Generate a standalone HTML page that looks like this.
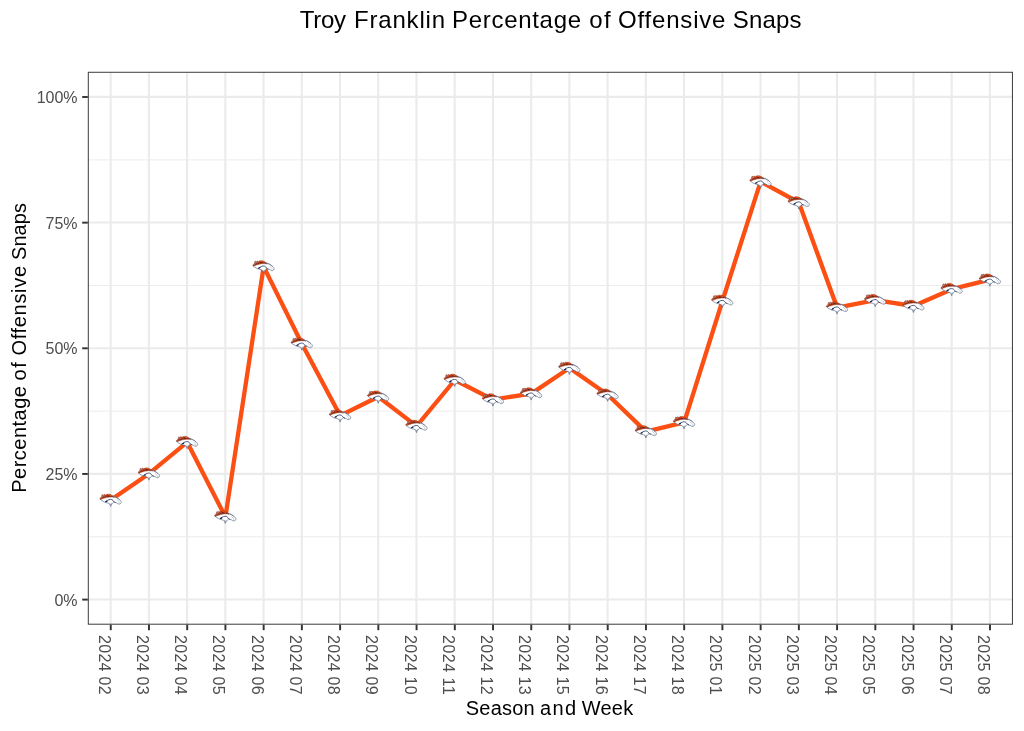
<!DOCTYPE html>
<html><head><meta charset="utf-8"><title>Troy Franklin Percentage of Offensive Snaps</title>
<style>html,body{margin:0;padding:0;background:#fff;}body{width:1024px;height:731px;overflow:hidden;}svg{display:block;will-change:transform;}text{font-family:"Liberation Sans",sans-serif;}</style>
</head><body>
<svg width="1024" height="731" viewBox="0 0 1024 731">
<rect x="0" y="0" width="1024" height="731" fill="#ffffff"/>
<line x1="87.80" x2="1012.94" y1="536.77" y2="536.77" stroke="#ebebeb" stroke-width="0.97"/>
<line x1="87.80" x2="1012.94" y1="411.12" y2="411.12" stroke="#ebebeb" stroke-width="0.97"/>
<line x1="87.80" x2="1012.94" y1="285.48" y2="285.48" stroke="#ebebeb" stroke-width="0.97"/>
<line x1="87.80" x2="1012.94" y1="159.83" y2="159.83" stroke="#ebebeb" stroke-width="0.97"/>
<line x1="87.80" x2="1012.94" y1="599.50" y2="599.50" stroke="#ebebeb" stroke-width="2.1"/>
<line x1="87.80" x2="1012.94" y1="473.85" y2="473.85" stroke="#ebebeb" stroke-width="2.1"/>
<line x1="87.80" x2="1012.94" y1="348.20" y2="348.20" stroke="#ebebeb" stroke-width="2.1"/>
<line x1="87.80" x2="1012.94" y1="222.55" y2="222.55" stroke="#ebebeb" stroke-width="2.1"/>
<line x1="87.80" x2="1012.94" y1="96.90" y2="96.90" stroke="#ebebeb" stroke-width="2.1"/>
<line x1="110.64" x2="110.64" y1="71.90" y2="624.70" stroke="#ebebeb" stroke-width="2.1"/>
<line x1="148.87" x2="148.87" y1="71.90" y2="624.70" stroke="#ebebeb" stroke-width="2.1"/>
<line x1="187.10" x2="187.10" y1="71.90" y2="624.70" stroke="#ebebeb" stroke-width="2.1"/>
<line x1="225.32" x2="225.32" y1="71.90" y2="624.70" stroke="#ebebeb" stroke-width="2.1"/>
<line x1="263.55" x2="263.55" y1="71.90" y2="624.70" stroke="#ebebeb" stroke-width="2.1"/>
<line x1="301.78" x2="301.78" y1="71.90" y2="624.70" stroke="#ebebeb" stroke-width="2.1"/>
<line x1="340.01" x2="340.01" y1="71.90" y2="624.70" stroke="#ebebeb" stroke-width="2.1"/>
<line x1="378.24" x2="378.24" y1="71.90" y2="624.70" stroke="#ebebeb" stroke-width="2.1"/>
<line x1="416.47" x2="416.47" y1="71.90" y2="624.70" stroke="#ebebeb" stroke-width="2.1"/>
<line x1="454.70" x2="454.70" y1="71.90" y2="624.70" stroke="#ebebeb" stroke-width="2.1"/>
<line x1="492.93" x2="492.93" y1="71.90" y2="624.70" stroke="#ebebeb" stroke-width="2.1"/>
<line x1="531.16" x2="531.16" y1="71.90" y2="624.70" stroke="#ebebeb" stroke-width="2.1"/>
<line x1="569.38" x2="569.38" y1="71.90" y2="624.70" stroke="#ebebeb" stroke-width="2.1"/>
<line x1="607.61" x2="607.61" y1="71.90" y2="624.70" stroke="#ebebeb" stroke-width="2.1"/>
<line x1="645.84" x2="645.84" y1="71.90" y2="624.70" stroke="#ebebeb" stroke-width="2.1"/>
<line x1="684.07" x2="684.07" y1="71.90" y2="624.70" stroke="#ebebeb" stroke-width="2.1"/>
<line x1="722.30" x2="722.30" y1="71.90" y2="624.70" stroke="#ebebeb" stroke-width="2.1"/>
<line x1="760.53" x2="760.53" y1="71.90" y2="624.70" stroke="#ebebeb" stroke-width="2.1"/>
<line x1="798.76" x2="798.76" y1="71.90" y2="624.70" stroke="#ebebeb" stroke-width="2.1"/>
<line x1="836.99" x2="836.99" y1="71.90" y2="624.70" stroke="#ebebeb" stroke-width="2.1"/>
<line x1="875.22" x2="875.22" y1="71.90" y2="624.70" stroke="#ebebeb" stroke-width="2.1"/>
<line x1="913.44" x2="913.44" y1="71.90" y2="624.70" stroke="#ebebeb" stroke-width="2.1"/>
<line x1="951.67" x2="951.67" y1="71.90" y2="624.70" stroke="#ebebeb" stroke-width="2.1"/>
<line x1="989.90" x2="989.90" y1="71.90" y2="624.70" stroke="#ebebeb" stroke-width="2.1"/>
<polyline points="110.74,500.00 148.97,473.70 187.20,442.20 225.42,516.90 263.65,266.60 301.88,343.70 340.11,415.60 378.34,396.70 416.57,426.10 454.80,380.00 493.03,399.60 531.26,393.60 569.48,368.00 607.71,394.80 645.94,431.60 684.17,422.40 722.40,301.00 760.63,181.60 798.86,202.50 837.09,307.60 875.32,300.20 913.54,306.00 951.77,289.20 990.00,279.70" fill="none" stroke="#fb4f14" stroke-width="4.3" stroke-linejoin="round" stroke-linecap="butt"/>
<g transform="translate(110.84,500.30)">
<path d="M-10.9,-1.3 C-8,-3.4 -3,-4.8 1.5,-4.3 C4.4,-3.8 7.2,-2.2 9,-0.4 C10,0.6 10.5,1.4 10.4,2.1 C10.2,3 9.6,3.5 8.6,3.7 C7.8,3.8 7.2,3.7 6.8,3.2 C6.3,2.6 5.6,2.5 4.7,2.3 C4,2.1 3.4,1.9 3,1.6 C2.4,2.2 1.8,2.7 1.5,3.3 L0.35,4.7 L-0.2,6.2 L-0.65,4.7 L-1.2,3.9 C-1.4,3.4 -1.9,3 -2.6,2.8 C-5.4,2.4 -8.6,1 -10.9,-1.3 Z" fill="#ffffff" stroke="#506080" stroke-width="0.62" stroke-linejoin="round"/>
<path d="M-11,-1.5 L-9.9,-3 L-9.4,-2.7 L-9,-5.2 L-8.2,-5.8 L-7.5,-4.7 L-6.7,-6 L-5.5,-5.2 L-4,-6.1 L-1.5,-6.1 L0.2,-5.6 L1.5,-4.7 L2.6,-3.6 L3.6,-2.9 L2,-3.2 C0,-3.5 -2.4,-3.3 -4.6,-2.7 C-6.6,-2.2 -8.6,-1.5 -10,-0.8 Z" fill="#d4410f" stroke="#7a2c1a" stroke-width="0.4" stroke-linejoin="round"/>
<path d="M-3.6,-5.6 L-1.5,-5.7 L0.1,-5.2 L1.3,-4.3 L0,-4.6 L-2,-4.9 Z" fill="#fb5a1a"/>
<path d="M-9.6,-1.6 C-7.6,-3 -5,-3.9 -2.2,-4.3 M-7.8,-3.8 L-7,-2.9 M-6,-4.6 L-5,-3.7 M-3.4,-4.4 C-1.6,-4.5 0.2,-4.2 1.8,-3.6" fill="none" stroke="#2e2030" stroke-width="0.55" opacity="0.75"/>
<path d="M-8.8,-5.3 L-8.2,-3.5 M-7.2,-5.3 L-6.6,-3.9 M-9.8,-2.8 L-9.2,-1.8" fill="none" stroke="#9aa6bd" stroke-width="0.7"/>
<path d="M-3.2,-4.3 L-1.4,-4.0" fill="none" stroke="#1c2444" stroke-width="0.7" opacity="0.8"/>
<path d="M1.8,-3.9 C4.4,-3.4 7,-2 9,-0.3" fill="none" stroke="#3a4a70" stroke-width="0.55" opacity="0.75"/>
<path d="M-5.3,1.4 C-4.3,0.4 -2.6,-0.6 -0.4,-0.95 C1,-1 2,-0.2 2.6,0.9 C2.9,1.5 3.4,1.9 4.4,2.1" fill="none" stroke="#2c3c64" stroke-width="0.85" stroke-linecap="round"/>
<ellipse cx="-4.3" cy="1.05" rx="1.3" ry="0.68" fill="#14244a" transform="rotate(-18 -4.3 1.05)"/>
<path d="M-1.2,2.8 L-0.2,5.2 L0.8,2.8" fill="none" stroke="#6b7893" stroke-width="0.55"/>
<path d="M5.8,-0.7 C7,0 8,0.9 8.4,1.8 C8.6,2.5 8.3,2.9 7.7,3.1" fill="none" stroke="#a0aabd" stroke-width="0.5"/>
</g>
<g transform="translate(149.07,474.00)">
<path d="M-10.9,-1.3 C-8,-3.4 -3,-4.8 1.5,-4.3 C4.4,-3.8 7.2,-2.2 9,-0.4 C10,0.6 10.5,1.4 10.4,2.1 C10.2,3 9.6,3.5 8.6,3.7 C7.8,3.8 7.2,3.7 6.8,3.2 C6.3,2.6 5.6,2.5 4.7,2.3 C4,2.1 3.4,1.9 3,1.6 C2.4,2.2 1.8,2.7 1.5,3.3 L0.35,4.7 L-0.2,6.2 L-0.65,4.7 L-1.2,3.9 C-1.4,3.4 -1.9,3 -2.6,2.8 C-5.4,2.4 -8.6,1 -10.9,-1.3 Z" fill="#ffffff" stroke="#506080" stroke-width="0.62" stroke-linejoin="round"/>
<path d="M-11,-1.5 L-9.9,-3 L-9.4,-2.7 L-9,-5.2 L-8.2,-5.8 L-7.5,-4.7 L-6.7,-6 L-5.5,-5.2 L-4,-6.1 L-1.5,-6.1 L0.2,-5.6 L1.5,-4.7 L2.6,-3.6 L3.6,-2.9 L2,-3.2 C0,-3.5 -2.4,-3.3 -4.6,-2.7 C-6.6,-2.2 -8.6,-1.5 -10,-0.8 Z" fill="#d4410f" stroke="#7a2c1a" stroke-width="0.4" stroke-linejoin="round"/>
<path d="M-3.6,-5.6 L-1.5,-5.7 L0.1,-5.2 L1.3,-4.3 L0,-4.6 L-2,-4.9 Z" fill="#fb5a1a"/>
<path d="M-9.6,-1.6 C-7.6,-3 -5,-3.9 -2.2,-4.3 M-7.8,-3.8 L-7,-2.9 M-6,-4.6 L-5,-3.7 M-3.4,-4.4 C-1.6,-4.5 0.2,-4.2 1.8,-3.6" fill="none" stroke="#2e2030" stroke-width="0.55" opacity="0.75"/>
<path d="M-8.8,-5.3 L-8.2,-3.5 M-7.2,-5.3 L-6.6,-3.9 M-9.8,-2.8 L-9.2,-1.8" fill="none" stroke="#9aa6bd" stroke-width="0.7"/>
<path d="M-3.2,-4.3 L-1.4,-4.0" fill="none" stroke="#1c2444" stroke-width="0.7" opacity="0.8"/>
<path d="M1.8,-3.9 C4.4,-3.4 7,-2 9,-0.3" fill="none" stroke="#3a4a70" stroke-width="0.55" opacity="0.75"/>
<path d="M-5.3,1.4 C-4.3,0.4 -2.6,-0.6 -0.4,-0.95 C1,-1 2,-0.2 2.6,0.9 C2.9,1.5 3.4,1.9 4.4,2.1" fill="none" stroke="#2c3c64" stroke-width="0.85" stroke-linecap="round"/>
<ellipse cx="-4.3" cy="1.05" rx="1.3" ry="0.68" fill="#14244a" transform="rotate(-18 -4.3 1.05)"/>
<path d="M-1.2,2.8 L-0.2,5.2 L0.8,2.8" fill="none" stroke="#6b7893" stroke-width="0.55"/>
<path d="M5.8,-0.7 C7,0 8,0.9 8.4,1.8 C8.6,2.5 8.3,2.9 7.7,3.1" fill="none" stroke="#a0aabd" stroke-width="0.5"/>
</g>
<g transform="translate(187.30,442.50)">
<path d="M-10.9,-1.3 C-8,-3.4 -3,-4.8 1.5,-4.3 C4.4,-3.8 7.2,-2.2 9,-0.4 C10,0.6 10.5,1.4 10.4,2.1 C10.2,3 9.6,3.5 8.6,3.7 C7.8,3.8 7.2,3.7 6.8,3.2 C6.3,2.6 5.6,2.5 4.7,2.3 C4,2.1 3.4,1.9 3,1.6 C2.4,2.2 1.8,2.7 1.5,3.3 L0.35,4.7 L-0.2,6.2 L-0.65,4.7 L-1.2,3.9 C-1.4,3.4 -1.9,3 -2.6,2.8 C-5.4,2.4 -8.6,1 -10.9,-1.3 Z" fill="#ffffff" stroke="#506080" stroke-width="0.62" stroke-linejoin="round"/>
<path d="M-11,-1.5 L-9.9,-3 L-9.4,-2.7 L-9,-5.2 L-8.2,-5.8 L-7.5,-4.7 L-6.7,-6 L-5.5,-5.2 L-4,-6.1 L-1.5,-6.1 L0.2,-5.6 L1.5,-4.7 L2.6,-3.6 L3.6,-2.9 L2,-3.2 C0,-3.5 -2.4,-3.3 -4.6,-2.7 C-6.6,-2.2 -8.6,-1.5 -10,-0.8 Z" fill="#d4410f" stroke="#7a2c1a" stroke-width="0.4" stroke-linejoin="round"/>
<path d="M-3.6,-5.6 L-1.5,-5.7 L0.1,-5.2 L1.3,-4.3 L0,-4.6 L-2,-4.9 Z" fill="#fb5a1a"/>
<path d="M-9.6,-1.6 C-7.6,-3 -5,-3.9 -2.2,-4.3 M-7.8,-3.8 L-7,-2.9 M-6,-4.6 L-5,-3.7 M-3.4,-4.4 C-1.6,-4.5 0.2,-4.2 1.8,-3.6" fill="none" stroke="#2e2030" stroke-width="0.55" opacity="0.75"/>
<path d="M-8.8,-5.3 L-8.2,-3.5 M-7.2,-5.3 L-6.6,-3.9 M-9.8,-2.8 L-9.2,-1.8" fill="none" stroke="#9aa6bd" stroke-width="0.7"/>
<path d="M-3.2,-4.3 L-1.4,-4.0" fill="none" stroke="#1c2444" stroke-width="0.7" opacity="0.8"/>
<path d="M1.8,-3.9 C4.4,-3.4 7,-2 9,-0.3" fill="none" stroke="#3a4a70" stroke-width="0.55" opacity="0.75"/>
<path d="M-5.3,1.4 C-4.3,0.4 -2.6,-0.6 -0.4,-0.95 C1,-1 2,-0.2 2.6,0.9 C2.9,1.5 3.4,1.9 4.4,2.1" fill="none" stroke="#2c3c64" stroke-width="0.85" stroke-linecap="round"/>
<ellipse cx="-4.3" cy="1.05" rx="1.3" ry="0.68" fill="#14244a" transform="rotate(-18 -4.3 1.05)"/>
<path d="M-1.2,2.8 L-0.2,5.2 L0.8,2.8" fill="none" stroke="#6b7893" stroke-width="0.55"/>
<path d="M5.8,-0.7 C7,0 8,0.9 8.4,1.8 C8.6,2.5 8.3,2.9 7.7,3.1" fill="none" stroke="#a0aabd" stroke-width="0.5"/>
</g>
<g transform="translate(225.52,517.20)">
<path d="M-10.9,-1.3 C-8,-3.4 -3,-4.8 1.5,-4.3 C4.4,-3.8 7.2,-2.2 9,-0.4 C10,0.6 10.5,1.4 10.4,2.1 C10.2,3 9.6,3.5 8.6,3.7 C7.8,3.8 7.2,3.7 6.8,3.2 C6.3,2.6 5.6,2.5 4.7,2.3 C4,2.1 3.4,1.9 3,1.6 C2.4,2.2 1.8,2.7 1.5,3.3 L0.35,4.7 L-0.2,6.2 L-0.65,4.7 L-1.2,3.9 C-1.4,3.4 -1.9,3 -2.6,2.8 C-5.4,2.4 -8.6,1 -10.9,-1.3 Z" fill="#ffffff" stroke="#506080" stroke-width="0.62" stroke-linejoin="round"/>
<path d="M-11,-1.5 L-9.9,-3 L-9.4,-2.7 L-9,-5.2 L-8.2,-5.8 L-7.5,-4.7 L-6.7,-6 L-5.5,-5.2 L-4,-6.1 L-1.5,-6.1 L0.2,-5.6 L1.5,-4.7 L2.6,-3.6 L3.6,-2.9 L2,-3.2 C0,-3.5 -2.4,-3.3 -4.6,-2.7 C-6.6,-2.2 -8.6,-1.5 -10,-0.8 Z" fill="#d4410f" stroke="#7a2c1a" stroke-width="0.4" stroke-linejoin="round"/>
<path d="M-3.6,-5.6 L-1.5,-5.7 L0.1,-5.2 L1.3,-4.3 L0,-4.6 L-2,-4.9 Z" fill="#fb5a1a"/>
<path d="M-9.6,-1.6 C-7.6,-3 -5,-3.9 -2.2,-4.3 M-7.8,-3.8 L-7,-2.9 M-6,-4.6 L-5,-3.7 M-3.4,-4.4 C-1.6,-4.5 0.2,-4.2 1.8,-3.6" fill="none" stroke="#2e2030" stroke-width="0.55" opacity="0.75"/>
<path d="M-8.8,-5.3 L-8.2,-3.5 M-7.2,-5.3 L-6.6,-3.9 M-9.8,-2.8 L-9.2,-1.8" fill="none" stroke="#9aa6bd" stroke-width="0.7"/>
<path d="M-3.2,-4.3 L-1.4,-4.0" fill="none" stroke="#1c2444" stroke-width="0.7" opacity="0.8"/>
<path d="M1.8,-3.9 C4.4,-3.4 7,-2 9,-0.3" fill="none" stroke="#3a4a70" stroke-width="0.55" opacity="0.75"/>
<path d="M-5.3,1.4 C-4.3,0.4 -2.6,-0.6 -0.4,-0.95 C1,-1 2,-0.2 2.6,0.9 C2.9,1.5 3.4,1.9 4.4,2.1" fill="none" stroke="#2c3c64" stroke-width="0.85" stroke-linecap="round"/>
<ellipse cx="-4.3" cy="1.05" rx="1.3" ry="0.68" fill="#14244a" transform="rotate(-18 -4.3 1.05)"/>
<path d="M-1.2,2.8 L-0.2,5.2 L0.8,2.8" fill="none" stroke="#6b7893" stroke-width="0.55"/>
<path d="M5.8,-0.7 C7,0 8,0.9 8.4,1.8 C8.6,2.5 8.3,2.9 7.7,3.1" fill="none" stroke="#a0aabd" stroke-width="0.5"/>
</g>
<g transform="translate(263.75,266.90)">
<path d="M-10.9,-1.3 C-8,-3.4 -3,-4.8 1.5,-4.3 C4.4,-3.8 7.2,-2.2 9,-0.4 C10,0.6 10.5,1.4 10.4,2.1 C10.2,3 9.6,3.5 8.6,3.7 C7.8,3.8 7.2,3.7 6.8,3.2 C6.3,2.6 5.6,2.5 4.7,2.3 C4,2.1 3.4,1.9 3,1.6 C2.4,2.2 1.8,2.7 1.5,3.3 L0.35,4.7 L-0.2,6.2 L-0.65,4.7 L-1.2,3.9 C-1.4,3.4 -1.9,3 -2.6,2.8 C-5.4,2.4 -8.6,1 -10.9,-1.3 Z" fill="#ffffff" stroke="#506080" stroke-width="0.62" stroke-linejoin="round"/>
<path d="M-11,-1.5 L-9.9,-3 L-9.4,-2.7 L-9,-5.2 L-8.2,-5.8 L-7.5,-4.7 L-6.7,-6 L-5.5,-5.2 L-4,-6.1 L-1.5,-6.1 L0.2,-5.6 L1.5,-4.7 L2.6,-3.6 L3.6,-2.9 L2,-3.2 C0,-3.5 -2.4,-3.3 -4.6,-2.7 C-6.6,-2.2 -8.6,-1.5 -10,-0.8 Z" fill="#d4410f" stroke="#7a2c1a" stroke-width="0.4" stroke-linejoin="round"/>
<path d="M-3.6,-5.6 L-1.5,-5.7 L0.1,-5.2 L1.3,-4.3 L0,-4.6 L-2,-4.9 Z" fill="#fb5a1a"/>
<path d="M-9.6,-1.6 C-7.6,-3 -5,-3.9 -2.2,-4.3 M-7.8,-3.8 L-7,-2.9 M-6,-4.6 L-5,-3.7 M-3.4,-4.4 C-1.6,-4.5 0.2,-4.2 1.8,-3.6" fill="none" stroke="#2e2030" stroke-width="0.55" opacity="0.75"/>
<path d="M-8.8,-5.3 L-8.2,-3.5 M-7.2,-5.3 L-6.6,-3.9 M-9.8,-2.8 L-9.2,-1.8" fill="none" stroke="#9aa6bd" stroke-width="0.7"/>
<path d="M-3.2,-4.3 L-1.4,-4.0" fill="none" stroke="#1c2444" stroke-width="0.7" opacity="0.8"/>
<path d="M1.8,-3.9 C4.4,-3.4 7,-2 9,-0.3" fill="none" stroke="#3a4a70" stroke-width="0.55" opacity="0.75"/>
<path d="M-5.3,1.4 C-4.3,0.4 -2.6,-0.6 -0.4,-0.95 C1,-1 2,-0.2 2.6,0.9 C2.9,1.5 3.4,1.9 4.4,2.1" fill="none" stroke="#2c3c64" stroke-width="0.85" stroke-linecap="round"/>
<ellipse cx="-4.3" cy="1.05" rx="1.3" ry="0.68" fill="#14244a" transform="rotate(-18 -4.3 1.05)"/>
<path d="M-1.2,2.8 L-0.2,5.2 L0.8,2.8" fill="none" stroke="#6b7893" stroke-width="0.55"/>
<path d="M5.8,-0.7 C7,0 8,0.9 8.4,1.8 C8.6,2.5 8.3,2.9 7.7,3.1" fill="none" stroke="#a0aabd" stroke-width="0.5"/>
</g>
<g transform="translate(301.98,344.00)">
<path d="M-10.9,-1.3 C-8,-3.4 -3,-4.8 1.5,-4.3 C4.4,-3.8 7.2,-2.2 9,-0.4 C10,0.6 10.5,1.4 10.4,2.1 C10.2,3 9.6,3.5 8.6,3.7 C7.8,3.8 7.2,3.7 6.8,3.2 C6.3,2.6 5.6,2.5 4.7,2.3 C4,2.1 3.4,1.9 3,1.6 C2.4,2.2 1.8,2.7 1.5,3.3 L0.35,4.7 L-0.2,6.2 L-0.65,4.7 L-1.2,3.9 C-1.4,3.4 -1.9,3 -2.6,2.8 C-5.4,2.4 -8.6,1 -10.9,-1.3 Z" fill="#ffffff" stroke="#506080" stroke-width="0.62" stroke-linejoin="round"/>
<path d="M-11,-1.5 L-9.9,-3 L-9.4,-2.7 L-9,-5.2 L-8.2,-5.8 L-7.5,-4.7 L-6.7,-6 L-5.5,-5.2 L-4,-6.1 L-1.5,-6.1 L0.2,-5.6 L1.5,-4.7 L2.6,-3.6 L3.6,-2.9 L2,-3.2 C0,-3.5 -2.4,-3.3 -4.6,-2.7 C-6.6,-2.2 -8.6,-1.5 -10,-0.8 Z" fill="#d4410f" stroke="#7a2c1a" stroke-width="0.4" stroke-linejoin="round"/>
<path d="M-3.6,-5.6 L-1.5,-5.7 L0.1,-5.2 L1.3,-4.3 L0,-4.6 L-2,-4.9 Z" fill="#fb5a1a"/>
<path d="M-9.6,-1.6 C-7.6,-3 -5,-3.9 -2.2,-4.3 M-7.8,-3.8 L-7,-2.9 M-6,-4.6 L-5,-3.7 M-3.4,-4.4 C-1.6,-4.5 0.2,-4.2 1.8,-3.6" fill="none" stroke="#2e2030" stroke-width="0.55" opacity="0.75"/>
<path d="M-8.8,-5.3 L-8.2,-3.5 M-7.2,-5.3 L-6.6,-3.9 M-9.8,-2.8 L-9.2,-1.8" fill="none" stroke="#9aa6bd" stroke-width="0.7"/>
<path d="M-3.2,-4.3 L-1.4,-4.0" fill="none" stroke="#1c2444" stroke-width="0.7" opacity="0.8"/>
<path d="M1.8,-3.9 C4.4,-3.4 7,-2 9,-0.3" fill="none" stroke="#3a4a70" stroke-width="0.55" opacity="0.75"/>
<path d="M-5.3,1.4 C-4.3,0.4 -2.6,-0.6 -0.4,-0.95 C1,-1 2,-0.2 2.6,0.9 C2.9,1.5 3.4,1.9 4.4,2.1" fill="none" stroke="#2c3c64" stroke-width="0.85" stroke-linecap="round"/>
<ellipse cx="-4.3" cy="1.05" rx="1.3" ry="0.68" fill="#14244a" transform="rotate(-18 -4.3 1.05)"/>
<path d="M-1.2,2.8 L-0.2,5.2 L0.8,2.8" fill="none" stroke="#6b7893" stroke-width="0.55"/>
<path d="M5.8,-0.7 C7,0 8,0.9 8.4,1.8 C8.6,2.5 8.3,2.9 7.7,3.1" fill="none" stroke="#a0aabd" stroke-width="0.5"/>
</g>
<g transform="translate(340.21,415.90)">
<path d="M-10.9,-1.3 C-8,-3.4 -3,-4.8 1.5,-4.3 C4.4,-3.8 7.2,-2.2 9,-0.4 C10,0.6 10.5,1.4 10.4,2.1 C10.2,3 9.6,3.5 8.6,3.7 C7.8,3.8 7.2,3.7 6.8,3.2 C6.3,2.6 5.6,2.5 4.7,2.3 C4,2.1 3.4,1.9 3,1.6 C2.4,2.2 1.8,2.7 1.5,3.3 L0.35,4.7 L-0.2,6.2 L-0.65,4.7 L-1.2,3.9 C-1.4,3.4 -1.9,3 -2.6,2.8 C-5.4,2.4 -8.6,1 -10.9,-1.3 Z" fill="#ffffff" stroke="#506080" stroke-width="0.62" stroke-linejoin="round"/>
<path d="M-11,-1.5 L-9.9,-3 L-9.4,-2.7 L-9,-5.2 L-8.2,-5.8 L-7.5,-4.7 L-6.7,-6 L-5.5,-5.2 L-4,-6.1 L-1.5,-6.1 L0.2,-5.6 L1.5,-4.7 L2.6,-3.6 L3.6,-2.9 L2,-3.2 C0,-3.5 -2.4,-3.3 -4.6,-2.7 C-6.6,-2.2 -8.6,-1.5 -10,-0.8 Z" fill="#d4410f" stroke="#7a2c1a" stroke-width="0.4" stroke-linejoin="round"/>
<path d="M-3.6,-5.6 L-1.5,-5.7 L0.1,-5.2 L1.3,-4.3 L0,-4.6 L-2,-4.9 Z" fill="#fb5a1a"/>
<path d="M-9.6,-1.6 C-7.6,-3 -5,-3.9 -2.2,-4.3 M-7.8,-3.8 L-7,-2.9 M-6,-4.6 L-5,-3.7 M-3.4,-4.4 C-1.6,-4.5 0.2,-4.2 1.8,-3.6" fill="none" stroke="#2e2030" stroke-width="0.55" opacity="0.75"/>
<path d="M-8.8,-5.3 L-8.2,-3.5 M-7.2,-5.3 L-6.6,-3.9 M-9.8,-2.8 L-9.2,-1.8" fill="none" stroke="#9aa6bd" stroke-width="0.7"/>
<path d="M-3.2,-4.3 L-1.4,-4.0" fill="none" stroke="#1c2444" stroke-width="0.7" opacity="0.8"/>
<path d="M1.8,-3.9 C4.4,-3.4 7,-2 9,-0.3" fill="none" stroke="#3a4a70" stroke-width="0.55" opacity="0.75"/>
<path d="M-5.3,1.4 C-4.3,0.4 -2.6,-0.6 -0.4,-0.95 C1,-1 2,-0.2 2.6,0.9 C2.9,1.5 3.4,1.9 4.4,2.1" fill="none" stroke="#2c3c64" stroke-width="0.85" stroke-linecap="round"/>
<ellipse cx="-4.3" cy="1.05" rx="1.3" ry="0.68" fill="#14244a" transform="rotate(-18 -4.3 1.05)"/>
<path d="M-1.2,2.8 L-0.2,5.2 L0.8,2.8" fill="none" stroke="#6b7893" stroke-width="0.55"/>
<path d="M5.8,-0.7 C7,0 8,0.9 8.4,1.8 C8.6,2.5 8.3,2.9 7.7,3.1" fill="none" stroke="#a0aabd" stroke-width="0.5"/>
</g>
<g transform="translate(378.44,397.00)">
<path d="M-10.9,-1.3 C-8,-3.4 -3,-4.8 1.5,-4.3 C4.4,-3.8 7.2,-2.2 9,-0.4 C10,0.6 10.5,1.4 10.4,2.1 C10.2,3 9.6,3.5 8.6,3.7 C7.8,3.8 7.2,3.7 6.8,3.2 C6.3,2.6 5.6,2.5 4.7,2.3 C4,2.1 3.4,1.9 3,1.6 C2.4,2.2 1.8,2.7 1.5,3.3 L0.35,4.7 L-0.2,6.2 L-0.65,4.7 L-1.2,3.9 C-1.4,3.4 -1.9,3 -2.6,2.8 C-5.4,2.4 -8.6,1 -10.9,-1.3 Z" fill="#ffffff" stroke="#506080" stroke-width="0.62" stroke-linejoin="round"/>
<path d="M-11,-1.5 L-9.9,-3 L-9.4,-2.7 L-9,-5.2 L-8.2,-5.8 L-7.5,-4.7 L-6.7,-6 L-5.5,-5.2 L-4,-6.1 L-1.5,-6.1 L0.2,-5.6 L1.5,-4.7 L2.6,-3.6 L3.6,-2.9 L2,-3.2 C0,-3.5 -2.4,-3.3 -4.6,-2.7 C-6.6,-2.2 -8.6,-1.5 -10,-0.8 Z" fill="#d4410f" stroke="#7a2c1a" stroke-width="0.4" stroke-linejoin="round"/>
<path d="M-3.6,-5.6 L-1.5,-5.7 L0.1,-5.2 L1.3,-4.3 L0,-4.6 L-2,-4.9 Z" fill="#fb5a1a"/>
<path d="M-9.6,-1.6 C-7.6,-3 -5,-3.9 -2.2,-4.3 M-7.8,-3.8 L-7,-2.9 M-6,-4.6 L-5,-3.7 M-3.4,-4.4 C-1.6,-4.5 0.2,-4.2 1.8,-3.6" fill="none" stroke="#2e2030" stroke-width="0.55" opacity="0.75"/>
<path d="M-8.8,-5.3 L-8.2,-3.5 M-7.2,-5.3 L-6.6,-3.9 M-9.8,-2.8 L-9.2,-1.8" fill="none" stroke="#9aa6bd" stroke-width="0.7"/>
<path d="M-3.2,-4.3 L-1.4,-4.0" fill="none" stroke="#1c2444" stroke-width="0.7" opacity="0.8"/>
<path d="M1.8,-3.9 C4.4,-3.4 7,-2 9,-0.3" fill="none" stroke="#3a4a70" stroke-width="0.55" opacity="0.75"/>
<path d="M-5.3,1.4 C-4.3,0.4 -2.6,-0.6 -0.4,-0.95 C1,-1 2,-0.2 2.6,0.9 C2.9,1.5 3.4,1.9 4.4,2.1" fill="none" stroke="#2c3c64" stroke-width="0.85" stroke-linecap="round"/>
<ellipse cx="-4.3" cy="1.05" rx="1.3" ry="0.68" fill="#14244a" transform="rotate(-18 -4.3 1.05)"/>
<path d="M-1.2,2.8 L-0.2,5.2 L0.8,2.8" fill="none" stroke="#6b7893" stroke-width="0.55"/>
<path d="M5.8,-0.7 C7,0 8,0.9 8.4,1.8 C8.6,2.5 8.3,2.9 7.7,3.1" fill="none" stroke="#a0aabd" stroke-width="0.5"/>
</g>
<g transform="translate(416.67,426.40)">
<path d="M-10.9,-1.3 C-8,-3.4 -3,-4.8 1.5,-4.3 C4.4,-3.8 7.2,-2.2 9,-0.4 C10,0.6 10.5,1.4 10.4,2.1 C10.2,3 9.6,3.5 8.6,3.7 C7.8,3.8 7.2,3.7 6.8,3.2 C6.3,2.6 5.6,2.5 4.7,2.3 C4,2.1 3.4,1.9 3,1.6 C2.4,2.2 1.8,2.7 1.5,3.3 L0.35,4.7 L-0.2,6.2 L-0.65,4.7 L-1.2,3.9 C-1.4,3.4 -1.9,3 -2.6,2.8 C-5.4,2.4 -8.6,1 -10.9,-1.3 Z" fill="#ffffff" stroke="#506080" stroke-width="0.62" stroke-linejoin="round"/>
<path d="M-11,-1.5 L-9.9,-3 L-9.4,-2.7 L-9,-5.2 L-8.2,-5.8 L-7.5,-4.7 L-6.7,-6 L-5.5,-5.2 L-4,-6.1 L-1.5,-6.1 L0.2,-5.6 L1.5,-4.7 L2.6,-3.6 L3.6,-2.9 L2,-3.2 C0,-3.5 -2.4,-3.3 -4.6,-2.7 C-6.6,-2.2 -8.6,-1.5 -10,-0.8 Z" fill="#d4410f" stroke="#7a2c1a" stroke-width="0.4" stroke-linejoin="round"/>
<path d="M-3.6,-5.6 L-1.5,-5.7 L0.1,-5.2 L1.3,-4.3 L0,-4.6 L-2,-4.9 Z" fill="#fb5a1a"/>
<path d="M-9.6,-1.6 C-7.6,-3 -5,-3.9 -2.2,-4.3 M-7.8,-3.8 L-7,-2.9 M-6,-4.6 L-5,-3.7 M-3.4,-4.4 C-1.6,-4.5 0.2,-4.2 1.8,-3.6" fill="none" stroke="#2e2030" stroke-width="0.55" opacity="0.75"/>
<path d="M-8.8,-5.3 L-8.2,-3.5 M-7.2,-5.3 L-6.6,-3.9 M-9.8,-2.8 L-9.2,-1.8" fill="none" stroke="#9aa6bd" stroke-width="0.7"/>
<path d="M-3.2,-4.3 L-1.4,-4.0" fill="none" stroke="#1c2444" stroke-width="0.7" opacity="0.8"/>
<path d="M1.8,-3.9 C4.4,-3.4 7,-2 9,-0.3" fill="none" stroke="#3a4a70" stroke-width="0.55" opacity="0.75"/>
<path d="M-5.3,1.4 C-4.3,0.4 -2.6,-0.6 -0.4,-0.95 C1,-1 2,-0.2 2.6,0.9 C2.9,1.5 3.4,1.9 4.4,2.1" fill="none" stroke="#2c3c64" stroke-width="0.85" stroke-linecap="round"/>
<ellipse cx="-4.3" cy="1.05" rx="1.3" ry="0.68" fill="#14244a" transform="rotate(-18 -4.3 1.05)"/>
<path d="M-1.2,2.8 L-0.2,5.2 L0.8,2.8" fill="none" stroke="#6b7893" stroke-width="0.55"/>
<path d="M5.8,-0.7 C7,0 8,0.9 8.4,1.8 C8.6,2.5 8.3,2.9 7.7,3.1" fill="none" stroke="#a0aabd" stroke-width="0.5"/>
</g>
<g transform="translate(454.90,380.30)">
<path d="M-10.9,-1.3 C-8,-3.4 -3,-4.8 1.5,-4.3 C4.4,-3.8 7.2,-2.2 9,-0.4 C10,0.6 10.5,1.4 10.4,2.1 C10.2,3 9.6,3.5 8.6,3.7 C7.8,3.8 7.2,3.7 6.8,3.2 C6.3,2.6 5.6,2.5 4.7,2.3 C4,2.1 3.4,1.9 3,1.6 C2.4,2.2 1.8,2.7 1.5,3.3 L0.35,4.7 L-0.2,6.2 L-0.65,4.7 L-1.2,3.9 C-1.4,3.4 -1.9,3 -2.6,2.8 C-5.4,2.4 -8.6,1 -10.9,-1.3 Z" fill="#ffffff" stroke="#506080" stroke-width="0.62" stroke-linejoin="round"/>
<path d="M-11,-1.5 L-9.9,-3 L-9.4,-2.7 L-9,-5.2 L-8.2,-5.8 L-7.5,-4.7 L-6.7,-6 L-5.5,-5.2 L-4,-6.1 L-1.5,-6.1 L0.2,-5.6 L1.5,-4.7 L2.6,-3.6 L3.6,-2.9 L2,-3.2 C0,-3.5 -2.4,-3.3 -4.6,-2.7 C-6.6,-2.2 -8.6,-1.5 -10,-0.8 Z" fill="#d4410f" stroke="#7a2c1a" stroke-width="0.4" stroke-linejoin="round"/>
<path d="M-3.6,-5.6 L-1.5,-5.7 L0.1,-5.2 L1.3,-4.3 L0,-4.6 L-2,-4.9 Z" fill="#fb5a1a"/>
<path d="M-9.6,-1.6 C-7.6,-3 -5,-3.9 -2.2,-4.3 M-7.8,-3.8 L-7,-2.9 M-6,-4.6 L-5,-3.7 M-3.4,-4.4 C-1.6,-4.5 0.2,-4.2 1.8,-3.6" fill="none" stroke="#2e2030" stroke-width="0.55" opacity="0.75"/>
<path d="M-8.8,-5.3 L-8.2,-3.5 M-7.2,-5.3 L-6.6,-3.9 M-9.8,-2.8 L-9.2,-1.8" fill="none" stroke="#9aa6bd" stroke-width="0.7"/>
<path d="M-3.2,-4.3 L-1.4,-4.0" fill="none" stroke="#1c2444" stroke-width="0.7" opacity="0.8"/>
<path d="M1.8,-3.9 C4.4,-3.4 7,-2 9,-0.3" fill="none" stroke="#3a4a70" stroke-width="0.55" opacity="0.75"/>
<path d="M-5.3,1.4 C-4.3,0.4 -2.6,-0.6 -0.4,-0.95 C1,-1 2,-0.2 2.6,0.9 C2.9,1.5 3.4,1.9 4.4,2.1" fill="none" stroke="#2c3c64" stroke-width="0.85" stroke-linecap="round"/>
<ellipse cx="-4.3" cy="1.05" rx="1.3" ry="0.68" fill="#14244a" transform="rotate(-18 -4.3 1.05)"/>
<path d="M-1.2,2.8 L-0.2,5.2 L0.8,2.8" fill="none" stroke="#6b7893" stroke-width="0.55"/>
<path d="M5.8,-0.7 C7,0 8,0.9 8.4,1.8 C8.6,2.5 8.3,2.9 7.7,3.1" fill="none" stroke="#a0aabd" stroke-width="0.5"/>
</g>
<g transform="translate(493.13,399.90)">
<path d="M-10.9,-1.3 C-8,-3.4 -3,-4.8 1.5,-4.3 C4.4,-3.8 7.2,-2.2 9,-0.4 C10,0.6 10.5,1.4 10.4,2.1 C10.2,3 9.6,3.5 8.6,3.7 C7.8,3.8 7.2,3.7 6.8,3.2 C6.3,2.6 5.6,2.5 4.7,2.3 C4,2.1 3.4,1.9 3,1.6 C2.4,2.2 1.8,2.7 1.5,3.3 L0.35,4.7 L-0.2,6.2 L-0.65,4.7 L-1.2,3.9 C-1.4,3.4 -1.9,3 -2.6,2.8 C-5.4,2.4 -8.6,1 -10.9,-1.3 Z" fill="#ffffff" stroke="#506080" stroke-width="0.62" stroke-linejoin="round"/>
<path d="M-11,-1.5 L-9.9,-3 L-9.4,-2.7 L-9,-5.2 L-8.2,-5.8 L-7.5,-4.7 L-6.7,-6 L-5.5,-5.2 L-4,-6.1 L-1.5,-6.1 L0.2,-5.6 L1.5,-4.7 L2.6,-3.6 L3.6,-2.9 L2,-3.2 C0,-3.5 -2.4,-3.3 -4.6,-2.7 C-6.6,-2.2 -8.6,-1.5 -10,-0.8 Z" fill="#d4410f" stroke="#7a2c1a" stroke-width="0.4" stroke-linejoin="round"/>
<path d="M-3.6,-5.6 L-1.5,-5.7 L0.1,-5.2 L1.3,-4.3 L0,-4.6 L-2,-4.9 Z" fill="#fb5a1a"/>
<path d="M-9.6,-1.6 C-7.6,-3 -5,-3.9 -2.2,-4.3 M-7.8,-3.8 L-7,-2.9 M-6,-4.6 L-5,-3.7 M-3.4,-4.4 C-1.6,-4.5 0.2,-4.2 1.8,-3.6" fill="none" stroke="#2e2030" stroke-width="0.55" opacity="0.75"/>
<path d="M-8.8,-5.3 L-8.2,-3.5 M-7.2,-5.3 L-6.6,-3.9 M-9.8,-2.8 L-9.2,-1.8" fill="none" stroke="#9aa6bd" stroke-width="0.7"/>
<path d="M-3.2,-4.3 L-1.4,-4.0" fill="none" stroke="#1c2444" stroke-width="0.7" opacity="0.8"/>
<path d="M1.8,-3.9 C4.4,-3.4 7,-2 9,-0.3" fill="none" stroke="#3a4a70" stroke-width="0.55" opacity="0.75"/>
<path d="M-5.3,1.4 C-4.3,0.4 -2.6,-0.6 -0.4,-0.95 C1,-1 2,-0.2 2.6,0.9 C2.9,1.5 3.4,1.9 4.4,2.1" fill="none" stroke="#2c3c64" stroke-width="0.85" stroke-linecap="round"/>
<ellipse cx="-4.3" cy="1.05" rx="1.3" ry="0.68" fill="#14244a" transform="rotate(-18 -4.3 1.05)"/>
<path d="M-1.2,2.8 L-0.2,5.2 L0.8,2.8" fill="none" stroke="#6b7893" stroke-width="0.55"/>
<path d="M5.8,-0.7 C7,0 8,0.9 8.4,1.8 C8.6,2.5 8.3,2.9 7.7,3.1" fill="none" stroke="#a0aabd" stroke-width="0.5"/>
</g>
<g transform="translate(531.36,393.90)">
<path d="M-10.9,-1.3 C-8,-3.4 -3,-4.8 1.5,-4.3 C4.4,-3.8 7.2,-2.2 9,-0.4 C10,0.6 10.5,1.4 10.4,2.1 C10.2,3 9.6,3.5 8.6,3.7 C7.8,3.8 7.2,3.7 6.8,3.2 C6.3,2.6 5.6,2.5 4.7,2.3 C4,2.1 3.4,1.9 3,1.6 C2.4,2.2 1.8,2.7 1.5,3.3 L0.35,4.7 L-0.2,6.2 L-0.65,4.7 L-1.2,3.9 C-1.4,3.4 -1.9,3 -2.6,2.8 C-5.4,2.4 -8.6,1 -10.9,-1.3 Z" fill="#ffffff" stroke="#506080" stroke-width="0.62" stroke-linejoin="round"/>
<path d="M-11,-1.5 L-9.9,-3 L-9.4,-2.7 L-9,-5.2 L-8.2,-5.8 L-7.5,-4.7 L-6.7,-6 L-5.5,-5.2 L-4,-6.1 L-1.5,-6.1 L0.2,-5.6 L1.5,-4.7 L2.6,-3.6 L3.6,-2.9 L2,-3.2 C0,-3.5 -2.4,-3.3 -4.6,-2.7 C-6.6,-2.2 -8.6,-1.5 -10,-0.8 Z" fill="#d4410f" stroke="#7a2c1a" stroke-width="0.4" stroke-linejoin="round"/>
<path d="M-3.6,-5.6 L-1.5,-5.7 L0.1,-5.2 L1.3,-4.3 L0,-4.6 L-2,-4.9 Z" fill="#fb5a1a"/>
<path d="M-9.6,-1.6 C-7.6,-3 -5,-3.9 -2.2,-4.3 M-7.8,-3.8 L-7,-2.9 M-6,-4.6 L-5,-3.7 M-3.4,-4.4 C-1.6,-4.5 0.2,-4.2 1.8,-3.6" fill="none" stroke="#2e2030" stroke-width="0.55" opacity="0.75"/>
<path d="M-8.8,-5.3 L-8.2,-3.5 M-7.2,-5.3 L-6.6,-3.9 M-9.8,-2.8 L-9.2,-1.8" fill="none" stroke="#9aa6bd" stroke-width="0.7"/>
<path d="M-3.2,-4.3 L-1.4,-4.0" fill="none" stroke="#1c2444" stroke-width="0.7" opacity="0.8"/>
<path d="M1.8,-3.9 C4.4,-3.4 7,-2 9,-0.3" fill="none" stroke="#3a4a70" stroke-width="0.55" opacity="0.75"/>
<path d="M-5.3,1.4 C-4.3,0.4 -2.6,-0.6 -0.4,-0.95 C1,-1 2,-0.2 2.6,0.9 C2.9,1.5 3.4,1.9 4.4,2.1" fill="none" stroke="#2c3c64" stroke-width="0.85" stroke-linecap="round"/>
<ellipse cx="-4.3" cy="1.05" rx="1.3" ry="0.68" fill="#14244a" transform="rotate(-18 -4.3 1.05)"/>
<path d="M-1.2,2.8 L-0.2,5.2 L0.8,2.8" fill="none" stroke="#6b7893" stroke-width="0.55"/>
<path d="M5.8,-0.7 C7,0 8,0.9 8.4,1.8 C8.6,2.5 8.3,2.9 7.7,3.1" fill="none" stroke="#a0aabd" stroke-width="0.5"/>
</g>
<g transform="translate(569.58,368.30)">
<path d="M-10.9,-1.3 C-8,-3.4 -3,-4.8 1.5,-4.3 C4.4,-3.8 7.2,-2.2 9,-0.4 C10,0.6 10.5,1.4 10.4,2.1 C10.2,3 9.6,3.5 8.6,3.7 C7.8,3.8 7.2,3.7 6.8,3.2 C6.3,2.6 5.6,2.5 4.7,2.3 C4,2.1 3.4,1.9 3,1.6 C2.4,2.2 1.8,2.7 1.5,3.3 L0.35,4.7 L-0.2,6.2 L-0.65,4.7 L-1.2,3.9 C-1.4,3.4 -1.9,3 -2.6,2.8 C-5.4,2.4 -8.6,1 -10.9,-1.3 Z" fill="#ffffff" stroke="#506080" stroke-width="0.62" stroke-linejoin="round"/>
<path d="M-11,-1.5 L-9.9,-3 L-9.4,-2.7 L-9,-5.2 L-8.2,-5.8 L-7.5,-4.7 L-6.7,-6 L-5.5,-5.2 L-4,-6.1 L-1.5,-6.1 L0.2,-5.6 L1.5,-4.7 L2.6,-3.6 L3.6,-2.9 L2,-3.2 C0,-3.5 -2.4,-3.3 -4.6,-2.7 C-6.6,-2.2 -8.6,-1.5 -10,-0.8 Z" fill="#d4410f" stroke="#7a2c1a" stroke-width="0.4" stroke-linejoin="round"/>
<path d="M-3.6,-5.6 L-1.5,-5.7 L0.1,-5.2 L1.3,-4.3 L0,-4.6 L-2,-4.9 Z" fill="#fb5a1a"/>
<path d="M-9.6,-1.6 C-7.6,-3 -5,-3.9 -2.2,-4.3 M-7.8,-3.8 L-7,-2.9 M-6,-4.6 L-5,-3.7 M-3.4,-4.4 C-1.6,-4.5 0.2,-4.2 1.8,-3.6" fill="none" stroke="#2e2030" stroke-width="0.55" opacity="0.75"/>
<path d="M-8.8,-5.3 L-8.2,-3.5 M-7.2,-5.3 L-6.6,-3.9 M-9.8,-2.8 L-9.2,-1.8" fill="none" stroke="#9aa6bd" stroke-width="0.7"/>
<path d="M-3.2,-4.3 L-1.4,-4.0" fill="none" stroke="#1c2444" stroke-width="0.7" opacity="0.8"/>
<path d="M1.8,-3.9 C4.4,-3.4 7,-2 9,-0.3" fill="none" stroke="#3a4a70" stroke-width="0.55" opacity="0.75"/>
<path d="M-5.3,1.4 C-4.3,0.4 -2.6,-0.6 -0.4,-0.95 C1,-1 2,-0.2 2.6,0.9 C2.9,1.5 3.4,1.9 4.4,2.1" fill="none" stroke="#2c3c64" stroke-width="0.85" stroke-linecap="round"/>
<ellipse cx="-4.3" cy="1.05" rx="1.3" ry="0.68" fill="#14244a" transform="rotate(-18 -4.3 1.05)"/>
<path d="M-1.2,2.8 L-0.2,5.2 L0.8,2.8" fill="none" stroke="#6b7893" stroke-width="0.55"/>
<path d="M5.8,-0.7 C7,0 8,0.9 8.4,1.8 C8.6,2.5 8.3,2.9 7.7,3.1" fill="none" stroke="#a0aabd" stroke-width="0.5"/>
</g>
<g transform="translate(607.81,395.10)">
<path d="M-10.9,-1.3 C-8,-3.4 -3,-4.8 1.5,-4.3 C4.4,-3.8 7.2,-2.2 9,-0.4 C10,0.6 10.5,1.4 10.4,2.1 C10.2,3 9.6,3.5 8.6,3.7 C7.8,3.8 7.2,3.7 6.8,3.2 C6.3,2.6 5.6,2.5 4.7,2.3 C4,2.1 3.4,1.9 3,1.6 C2.4,2.2 1.8,2.7 1.5,3.3 L0.35,4.7 L-0.2,6.2 L-0.65,4.7 L-1.2,3.9 C-1.4,3.4 -1.9,3 -2.6,2.8 C-5.4,2.4 -8.6,1 -10.9,-1.3 Z" fill="#ffffff" stroke="#506080" stroke-width="0.62" stroke-linejoin="round"/>
<path d="M-11,-1.5 L-9.9,-3 L-9.4,-2.7 L-9,-5.2 L-8.2,-5.8 L-7.5,-4.7 L-6.7,-6 L-5.5,-5.2 L-4,-6.1 L-1.5,-6.1 L0.2,-5.6 L1.5,-4.7 L2.6,-3.6 L3.6,-2.9 L2,-3.2 C0,-3.5 -2.4,-3.3 -4.6,-2.7 C-6.6,-2.2 -8.6,-1.5 -10,-0.8 Z" fill="#d4410f" stroke="#7a2c1a" stroke-width="0.4" stroke-linejoin="round"/>
<path d="M-3.6,-5.6 L-1.5,-5.7 L0.1,-5.2 L1.3,-4.3 L0,-4.6 L-2,-4.9 Z" fill="#fb5a1a"/>
<path d="M-9.6,-1.6 C-7.6,-3 -5,-3.9 -2.2,-4.3 M-7.8,-3.8 L-7,-2.9 M-6,-4.6 L-5,-3.7 M-3.4,-4.4 C-1.6,-4.5 0.2,-4.2 1.8,-3.6" fill="none" stroke="#2e2030" stroke-width="0.55" opacity="0.75"/>
<path d="M-8.8,-5.3 L-8.2,-3.5 M-7.2,-5.3 L-6.6,-3.9 M-9.8,-2.8 L-9.2,-1.8" fill="none" stroke="#9aa6bd" stroke-width="0.7"/>
<path d="M-3.2,-4.3 L-1.4,-4.0" fill="none" stroke="#1c2444" stroke-width="0.7" opacity="0.8"/>
<path d="M1.8,-3.9 C4.4,-3.4 7,-2 9,-0.3" fill="none" stroke="#3a4a70" stroke-width="0.55" opacity="0.75"/>
<path d="M-5.3,1.4 C-4.3,0.4 -2.6,-0.6 -0.4,-0.95 C1,-1 2,-0.2 2.6,0.9 C2.9,1.5 3.4,1.9 4.4,2.1" fill="none" stroke="#2c3c64" stroke-width="0.85" stroke-linecap="round"/>
<ellipse cx="-4.3" cy="1.05" rx="1.3" ry="0.68" fill="#14244a" transform="rotate(-18 -4.3 1.05)"/>
<path d="M-1.2,2.8 L-0.2,5.2 L0.8,2.8" fill="none" stroke="#6b7893" stroke-width="0.55"/>
<path d="M5.8,-0.7 C7,0 8,0.9 8.4,1.8 C8.6,2.5 8.3,2.9 7.7,3.1" fill="none" stroke="#a0aabd" stroke-width="0.5"/>
</g>
<g transform="translate(646.04,431.90)">
<path d="M-10.9,-1.3 C-8,-3.4 -3,-4.8 1.5,-4.3 C4.4,-3.8 7.2,-2.2 9,-0.4 C10,0.6 10.5,1.4 10.4,2.1 C10.2,3 9.6,3.5 8.6,3.7 C7.8,3.8 7.2,3.7 6.8,3.2 C6.3,2.6 5.6,2.5 4.7,2.3 C4,2.1 3.4,1.9 3,1.6 C2.4,2.2 1.8,2.7 1.5,3.3 L0.35,4.7 L-0.2,6.2 L-0.65,4.7 L-1.2,3.9 C-1.4,3.4 -1.9,3 -2.6,2.8 C-5.4,2.4 -8.6,1 -10.9,-1.3 Z" fill="#ffffff" stroke="#506080" stroke-width="0.62" stroke-linejoin="round"/>
<path d="M-11,-1.5 L-9.9,-3 L-9.4,-2.7 L-9,-5.2 L-8.2,-5.8 L-7.5,-4.7 L-6.7,-6 L-5.5,-5.2 L-4,-6.1 L-1.5,-6.1 L0.2,-5.6 L1.5,-4.7 L2.6,-3.6 L3.6,-2.9 L2,-3.2 C0,-3.5 -2.4,-3.3 -4.6,-2.7 C-6.6,-2.2 -8.6,-1.5 -10,-0.8 Z" fill="#d4410f" stroke="#7a2c1a" stroke-width="0.4" stroke-linejoin="round"/>
<path d="M-3.6,-5.6 L-1.5,-5.7 L0.1,-5.2 L1.3,-4.3 L0,-4.6 L-2,-4.9 Z" fill="#fb5a1a"/>
<path d="M-9.6,-1.6 C-7.6,-3 -5,-3.9 -2.2,-4.3 M-7.8,-3.8 L-7,-2.9 M-6,-4.6 L-5,-3.7 M-3.4,-4.4 C-1.6,-4.5 0.2,-4.2 1.8,-3.6" fill="none" stroke="#2e2030" stroke-width="0.55" opacity="0.75"/>
<path d="M-8.8,-5.3 L-8.2,-3.5 M-7.2,-5.3 L-6.6,-3.9 M-9.8,-2.8 L-9.2,-1.8" fill="none" stroke="#9aa6bd" stroke-width="0.7"/>
<path d="M-3.2,-4.3 L-1.4,-4.0" fill="none" stroke="#1c2444" stroke-width="0.7" opacity="0.8"/>
<path d="M1.8,-3.9 C4.4,-3.4 7,-2 9,-0.3" fill="none" stroke="#3a4a70" stroke-width="0.55" opacity="0.75"/>
<path d="M-5.3,1.4 C-4.3,0.4 -2.6,-0.6 -0.4,-0.95 C1,-1 2,-0.2 2.6,0.9 C2.9,1.5 3.4,1.9 4.4,2.1" fill="none" stroke="#2c3c64" stroke-width="0.85" stroke-linecap="round"/>
<ellipse cx="-4.3" cy="1.05" rx="1.3" ry="0.68" fill="#14244a" transform="rotate(-18 -4.3 1.05)"/>
<path d="M-1.2,2.8 L-0.2,5.2 L0.8,2.8" fill="none" stroke="#6b7893" stroke-width="0.55"/>
<path d="M5.8,-0.7 C7,0 8,0.9 8.4,1.8 C8.6,2.5 8.3,2.9 7.7,3.1" fill="none" stroke="#a0aabd" stroke-width="0.5"/>
</g>
<g transform="translate(684.27,422.70)">
<path d="M-10.9,-1.3 C-8,-3.4 -3,-4.8 1.5,-4.3 C4.4,-3.8 7.2,-2.2 9,-0.4 C10,0.6 10.5,1.4 10.4,2.1 C10.2,3 9.6,3.5 8.6,3.7 C7.8,3.8 7.2,3.7 6.8,3.2 C6.3,2.6 5.6,2.5 4.7,2.3 C4,2.1 3.4,1.9 3,1.6 C2.4,2.2 1.8,2.7 1.5,3.3 L0.35,4.7 L-0.2,6.2 L-0.65,4.7 L-1.2,3.9 C-1.4,3.4 -1.9,3 -2.6,2.8 C-5.4,2.4 -8.6,1 -10.9,-1.3 Z" fill="#ffffff" stroke="#506080" stroke-width="0.62" stroke-linejoin="round"/>
<path d="M-11,-1.5 L-9.9,-3 L-9.4,-2.7 L-9,-5.2 L-8.2,-5.8 L-7.5,-4.7 L-6.7,-6 L-5.5,-5.2 L-4,-6.1 L-1.5,-6.1 L0.2,-5.6 L1.5,-4.7 L2.6,-3.6 L3.6,-2.9 L2,-3.2 C0,-3.5 -2.4,-3.3 -4.6,-2.7 C-6.6,-2.2 -8.6,-1.5 -10,-0.8 Z" fill="#d4410f" stroke="#7a2c1a" stroke-width="0.4" stroke-linejoin="round"/>
<path d="M-3.6,-5.6 L-1.5,-5.7 L0.1,-5.2 L1.3,-4.3 L0,-4.6 L-2,-4.9 Z" fill="#fb5a1a"/>
<path d="M-9.6,-1.6 C-7.6,-3 -5,-3.9 -2.2,-4.3 M-7.8,-3.8 L-7,-2.9 M-6,-4.6 L-5,-3.7 M-3.4,-4.4 C-1.6,-4.5 0.2,-4.2 1.8,-3.6" fill="none" stroke="#2e2030" stroke-width="0.55" opacity="0.75"/>
<path d="M-8.8,-5.3 L-8.2,-3.5 M-7.2,-5.3 L-6.6,-3.9 M-9.8,-2.8 L-9.2,-1.8" fill="none" stroke="#9aa6bd" stroke-width="0.7"/>
<path d="M-3.2,-4.3 L-1.4,-4.0" fill="none" stroke="#1c2444" stroke-width="0.7" opacity="0.8"/>
<path d="M1.8,-3.9 C4.4,-3.4 7,-2 9,-0.3" fill="none" stroke="#3a4a70" stroke-width="0.55" opacity="0.75"/>
<path d="M-5.3,1.4 C-4.3,0.4 -2.6,-0.6 -0.4,-0.95 C1,-1 2,-0.2 2.6,0.9 C2.9,1.5 3.4,1.9 4.4,2.1" fill="none" stroke="#2c3c64" stroke-width="0.85" stroke-linecap="round"/>
<ellipse cx="-4.3" cy="1.05" rx="1.3" ry="0.68" fill="#14244a" transform="rotate(-18 -4.3 1.05)"/>
<path d="M-1.2,2.8 L-0.2,5.2 L0.8,2.8" fill="none" stroke="#6b7893" stroke-width="0.55"/>
<path d="M5.8,-0.7 C7,0 8,0.9 8.4,1.8 C8.6,2.5 8.3,2.9 7.7,3.1" fill="none" stroke="#a0aabd" stroke-width="0.5"/>
</g>
<g transform="translate(722.50,301.30)">
<path d="M-10.9,-1.3 C-8,-3.4 -3,-4.8 1.5,-4.3 C4.4,-3.8 7.2,-2.2 9,-0.4 C10,0.6 10.5,1.4 10.4,2.1 C10.2,3 9.6,3.5 8.6,3.7 C7.8,3.8 7.2,3.7 6.8,3.2 C6.3,2.6 5.6,2.5 4.7,2.3 C4,2.1 3.4,1.9 3,1.6 C2.4,2.2 1.8,2.7 1.5,3.3 L0.35,4.7 L-0.2,6.2 L-0.65,4.7 L-1.2,3.9 C-1.4,3.4 -1.9,3 -2.6,2.8 C-5.4,2.4 -8.6,1 -10.9,-1.3 Z" fill="#ffffff" stroke="#506080" stroke-width="0.62" stroke-linejoin="round"/>
<path d="M-11,-1.5 L-9.9,-3 L-9.4,-2.7 L-9,-5.2 L-8.2,-5.8 L-7.5,-4.7 L-6.7,-6 L-5.5,-5.2 L-4,-6.1 L-1.5,-6.1 L0.2,-5.6 L1.5,-4.7 L2.6,-3.6 L3.6,-2.9 L2,-3.2 C0,-3.5 -2.4,-3.3 -4.6,-2.7 C-6.6,-2.2 -8.6,-1.5 -10,-0.8 Z" fill="#d4410f" stroke="#7a2c1a" stroke-width="0.4" stroke-linejoin="round"/>
<path d="M-3.6,-5.6 L-1.5,-5.7 L0.1,-5.2 L1.3,-4.3 L0,-4.6 L-2,-4.9 Z" fill="#fb5a1a"/>
<path d="M-9.6,-1.6 C-7.6,-3 -5,-3.9 -2.2,-4.3 M-7.8,-3.8 L-7,-2.9 M-6,-4.6 L-5,-3.7 M-3.4,-4.4 C-1.6,-4.5 0.2,-4.2 1.8,-3.6" fill="none" stroke="#2e2030" stroke-width="0.55" opacity="0.75"/>
<path d="M-8.8,-5.3 L-8.2,-3.5 M-7.2,-5.3 L-6.6,-3.9 M-9.8,-2.8 L-9.2,-1.8" fill="none" stroke="#9aa6bd" stroke-width="0.7"/>
<path d="M-3.2,-4.3 L-1.4,-4.0" fill="none" stroke="#1c2444" stroke-width="0.7" opacity="0.8"/>
<path d="M1.8,-3.9 C4.4,-3.4 7,-2 9,-0.3" fill="none" stroke="#3a4a70" stroke-width="0.55" opacity="0.75"/>
<path d="M-5.3,1.4 C-4.3,0.4 -2.6,-0.6 -0.4,-0.95 C1,-1 2,-0.2 2.6,0.9 C2.9,1.5 3.4,1.9 4.4,2.1" fill="none" stroke="#2c3c64" stroke-width="0.85" stroke-linecap="round"/>
<ellipse cx="-4.3" cy="1.05" rx="1.3" ry="0.68" fill="#14244a" transform="rotate(-18 -4.3 1.05)"/>
<path d="M-1.2,2.8 L-0.2,5.2 L0.8,2.8" fill="none" stroke="#6b7893" stroke-width="0.55"/>
<path d="M5.8,-0.7 C7,0 8,0.9 8.4,1.8 C8.6,2.5 8.3,2.9 7.7,3.1" fill="none" stroke="#a0aabd" stroke-width="0.5"/>
</g>
<g transform="translate(760.73,181.90)">
<path d="M-10.9,-1.3 C-8,-3.4 -3,-4.8 1.5,-4.3 C4.4,-3.8 7.2,-2.2 9,-0.4 C10,0.6 10.5,1.4 10.4,2.1 C10.2,3 9.6,3.5 8.6,3.7 C7.8,3.8 7.2,3.7 6.8,3.2 C6.3,2.6 5.6,2.5 4.7,2.3 C4,2.1 3.4,1.9 3,1.6 C2.4,2.2 1.8,2.7 1.5,3.3 L0.35,4.7 L-0.2,6.2 L-0.65,4.7 L-1.2,3.9 C-1.4,3.4 -1.9,3 -2.6,2.8 C-5.4,2.4 -8.6,1 -10.9,-1.3 Z" fill="#ffffff" stroke="#506080" stroke-width="0.62" stroke-linejoin="round"/>
<path d="M-11,-1.5 L-9.9,-3 L-9.4,-2.7 L-9,-5.2 L-8.2,-5.8 L-7.5,-4.7 L-6.7,-6 L-5.5,-5.2 L-4,-6.1 L-1.5,-6.1 L0.2,-5.6 L1.5,-4.7 L2.6,-3.6 L3.6,-2.9 L2,-3.2 C0,-3.5 -2.4,-3.3 -4.6,-2.7 C-6.6,-2.2 -8.6,-1.5 -10,-0.8 Z" fill="#d4410f" stroke="#7a2c1a" stroke-width="0.4" stroke-linejoin="round"/>
<path d="M-3.6,-5.6 L-1.5,-5.7 L0.1,-5.2 L1.3,-4.3 L0,-4.6 L-2,-4.9 Z" fill="#fb5a1a"/>
<path d="M-9.6,-1.6 C-7.6,-3 -5,-3.9 -2.2,-4.3 M-7.8,-3.8 L-7,-2.9 M-6,-4.6 L-5,-3.7 M-3.4,-4.4 C-1.6,-4.5 0.2,-4.2 1.8,-3.6" fill="none" stroke="#2e2030" stroke-width="0.55" opacity="0.75"/>
<path d="M-8.8,-5.3 L-8.2,-3.5 M-7.2,-5.3 L-6.6,-3.9 M-9.8,-2.8 L-9.2,-1.8" fill="none" stroke="#9aa6bd" stroke-width="0.7"/>
<path d="M-3.2,-4.3 L-1.4,-4.0" fill="none" stroke="#1c2444" stroke-width="0.7" opacity="0.8"/>
<path d="M1.8,-3.9 C4.4,-3.4 7,-2 9,-0.3" fill="none" stroke="#3a4a70" stroke-width="0.55" opacity="0.75"/>
<path d="M-5.3,1.4 C-4.3,0.4 -2.6,-0.6 -0.4,-0.95 C1,-1 2,-0.2 2.6,0.9 C2.9,1.5 3.4,1.9 4.4,2.1" fill="none" stroke="#2c3c64" stroke-width="0.85" stroke-linecap="round"/>
<ellipse cx="-4.3" cy="1.05" rx="1.3" ry="0.68" fill="#14244a" transform="rotate(-18 -4.3 1.05)"/>
<path d="M-1.2,2.8 L-0.2,5.2 L0.8,2.8" fill="none" stroke="#6b7893" stroke-width="0.55"/>
<path d="M5.8,-0.7 C7,0 8,0.9 8.4,1.8 C8.6,2.5 8.3,2.9 7.7,3.1" fill="none" stroke="#a0aabd" stroke-width="0.5"/>
</g>
<g transform="translate(798.96,202.80)">
<path d="M-10.9,-1.3 C-8,-3.4 -3,-4.8 1.5,-4.3 C4.4,-3.8 7.2,-2.2 9,-0.4 C10,0.6 10.5,1.4 10.4,2.1 C10.2,3 9.6,3.5 8.6,3.7 C7.8,3.8 7.2,3.7 6.8,3.2 C6.3,2.6 5.6,2.5 4.7,2.3 C4,2.1 3.4,1.9 3,1.6 C2.4,2.2 1.8,2.7 1.5,3.3 L0.35,4.7 L-0.2,6.2 L-0.65,4.7 L-1.2,3.9 C-1.4,3.4 -1.9,3 -2.6,2.8 C-5.4,2.4 -8.6,1 -10.9,-1.3 Z" fill="#ffffff" stroke="#506080" stroke-width="0.62" stroke-linejoin="round"/>
<path d="M-11,-1.5 L-9.9,-3 L-9.4,-2.7 L-9,-5.2 L-8.2,-5.8 L-7.5,-4.7 L-6.7,-6 L-5.5,-5.2 L-4,-6.1 L-1.5,-6.1 L0.2,-5.6 L1.5,-4.7 L2.6,-3.6 L3.6,-2.9 L2,-3.2 C0,-3.5 -2.4,-3.3 -4.6,-2.7 C-6.6,-2.2 -8.6,-1.5 -10,-0.8 Z" fill="#d4410f" stroke="#7a2c1a" stroke-width="0.4" stroke-linejoin="round"/>
<path d="M-3.6,-5.6 L-1.5,-5.7 L0.1,-5.2 L1.3,-4.3 L0,-4.6 L-2,-4.9 Z" fill="#fb5a1a"/>
<path d="M-9.6,-1.6 C-7.6,-3 -5,-3.9 -2.2,-4.3 M-7.8,-3.8 L-7,-2.9 M-6,-4.6 L-5,-3.7 M-3.4,-4.4 C-1.6,-4.5 0.2,-4.2 1.8,-3.6" fill="none" stroke="#2e2030" stroke-width="0.55" opacity="0.75"/>
<path d="M-8.8,-5.3 L-8.2,-3.5 M-7.2,-5.3 L-6.6,-3.9 M-9.8,-2.8 L-9.2,-1.8" fill="none" stroke="#9aa6bd" stroke-width="0.7"/>
<path d="M-3.2,-4.3 L-1.4,-4.0" fill="none" stroke="#1c2444" stroke-width="0.7" opacity="0.8"/>
<path d="M1.8,-3.9 C4.4,-3.4 7,-2 9,-0.3" fill="none" stroke="#3a4a70" stroke-width="0.55" opacity="0.75"/>
<path d="M-5.3,1.4 C-4.3,0.4 -2.6,-0.6 -0.4,-0.95 C1,-1 2,-0.2 2.6,0.9 C2.9,1.5 3.4,1.9 4.4,2.1" fill="none" stroke="#2c3c64" stroke-width="0.85" stroke-linecap="round"/>
<ellipse cx="-4.3" cy="1.05" rx="1.3" ry="0.68" fill="#14244a" transform="rotate(-18 -4.3 1.05)"/>
<path d="M-1.2,2.8 L-0.2,5.2 L0.8,2.8" fill="none" stroke="#6b7893" stroke-width="0.55"/>
<path d="M5.8,-0.7 C7,0 8,0.9 8.4,1.8 C8.6,2.5 8.3,2.9 7.7,3.1" fill="none" stroke="#a0aabd" stroke-width="0.5"/>
</g>
<g transform="translate(837.19,307.90)">
<path d="M-10.9,-1.3 C-8,-3.4 -3,-4.8 1.5,-4.3 C4.4,-3.8 7.2,-2.2 9,-0.4 C10,0.6 10.5,1.4 10.4,2.1 C10.2,3 9.6,3.5 8.6,3.7 C7.8,3.8 7.2,3.7 6.8,3.2 C6.3,2.6 5.6,2.5 4.7,2.3 C4,2.1 3.4,1.9 3,1.6 C2.4,2.2 1.8,2.7 1.5,3.3 L0.35,4.7 L-0.2,6.2 L-0.65,4.7 L-1.2,3.9 C-1.4,3.4 -1.9,3 -2.6,2.8 C-5.4,2.4 -8.6,1 -10.9,-1.3 Z" fill="#ffffff" stroke="#506080" stroke-width="0.62" stroke-linejoin="round"/>
<path d="M-11,-1.5 L-9.9,-3 L-9.4,-2.7 L-9,-5.2 L-8.2,-5.8 L-7.5,-4.7 L-6.7,-6 L-5.5,-5.2 L-4,-6.1 L-1.5,-6.1 L0.2,-5.6 L1.5,-4.7 L2.6,-3.6 L3.6,-2.9 L2,-3.2 C0,-3.5 -2.4,-3.3 -4.6,-2.7 C-6.6,-2.2 -8.6,-1.5 -10,-0.8 Z" fill="#d4410f" stroke="#7a2c1a" stroke-width="0.4" stroke-linejoin="round"/>
<path d="M-3.6,-5.6 L-1.5,-5.7 L0.1,-5.2 L1.3,-4.3 L0,-4.6 L-2,-4.9 Z" fill="#fb5a1a"/>
<path d="M-9.6,-1.6 C-7.6,-3 -5,-3.9 -2.2,-4.3 M-7.8,-3.8 L-7,-2.9 M-6,-4.6 L-5,-3.7 M-3.4,-4.4 C-1.6,-4.5 0.2,-4.2 1.8,-3.6" fill="none" stroke="#2e2030" stroke-width="0.55" opacity="0.75"/>
<path d="M-8.8,-5.3 L-8.2,-3.5 M-7.2,-5.3 L-6.6,-3.9 M-9.8,-2.8 L-9.2,-1.8" fill="none" stroke="#9aa6bd" stroke-width="0.7"/>
<path d="M-3.2,-4.3 L-1.4,-4.0" fill="none" stroke="#1c2444" stroke-width="0.7" opacity="0.8"/>
<path d="M1.8,-3.9 C4.4,-3.4 7,-2 9,-0.3" fill="none" stroke="#3a4a70" stroke-width="0.55" opacity="0.75"/>
<path d="M-5.3,1.4 C-4.3,0.4 -2.6,-0.6 -0.4,-0.95 C1,-1 2,-0.2 2.6,0.9 C2.9,1.5 3.4,1.9 4.4,2.1" fill="none" stroke="#2c3c64" stroke-width="0.85" stroke-linecap="round"/>
<ellipse cx="-4.3" cy="1.05" rx="1.3" ry="0.68" fill="#14244a" transform="rotate(-18 -4.3 1.05)"/>
<path d="M-1.2,2.8 L-0.2,5.2 L0.8,2.8" fill="none" stroke="#6b7893" stroke-width="0.55"/>
<path d="M5.8,-0.7 C7,0 8,0.9 8.4,1.8 C8.6,2.5 8.3,2.9 7.7,3.1" fill="none" stroke="#a0aabd" stroke-width="0.5"/>
</g>
<g transform="translate(875.42,300.50)">
<path d="M-10.9,-1.3 C-8,-3.4 -3,-4.8 1.5,-4.3 C4.4,-3.8 7.2,-2.2 9,-0.4 C10,0.6 10.5,1.4 10.4,2.1 C10.2,3 9.6,3.5 8.6,3.7 C7.8,3.8 7.2,3.7 6.8,3.2 C6.3,2.6 5.6,2.5 4.7,2.3 C4,2.1 3.4,1.9 3,1.6 C2.4,2.2 1.8,2.7 1.5,3.3 L0.35,4.7 L-0.2,6.2 L-0.65,4.7 L-1.2,3.9 C-1.4,3.4 -1.9,3 -2.6,2.8 C-5.4,2.4 -8.6,1 -10.9,-1.3 Z" fill="#ffffff" stroke="#506080" stroke-width="0.62" stroke-linejoin="round"/>
<path d="M-11,-1.5 L-9.9,-3 L-9.4,-2.7 L-9,-5.2 L-8.2,-5.8 L-7.5,-4.7 L-6.7,-6 L-5.5,-5.2 L-4,-6.1 L-1.5,-6.1 L0.2,-5.6 L1.5,-4.7 L2.6,-3.6 L3.6,-2.9 L2,-3.2 C0,-3.5 -2.4,-3.3 -4.6,-2.7 C-6.6,-2.2 -8.6,-1.5 -10,-0.8 Z" fill="#d4410f" stroke="#7a2c1a" stroke-width="0.4" stroke-linejoin="round"/>
<path d="M-3.6,-5.6 L-1.5,-5.7 L0.1,-5.2 L1.3,-4.3 L0,-4.6 L-2,-4.9 Z" fill="#fb5a1a"/>
<path d="M-9.6,-1.6 C-7.6,-3 -5,-3.9 -2.2,-4.3 M-7.8,-3.8 L-7,-2.9 M-6,-4.6 L-5,-3.7 M-3.4,-4.4 C-1.6,-4.5 0.2,-4.2 1.8,-3.6" fill="none" stroke="#2e2030" stroke-width="0.55" opacity="0.75"/>
<path d="M-8.8,-5.3 L-8.2,-3.5 M-7.2,-5.3 L-6.6,-3.9 M-9.8,-2.8 L-9.2,-1.8" fill="none" stroke="#9aa6bd" stroke-width="0.7"/>
<path d="M-3.2,-4.3 L-1.4,-4.0" fill="none" stroke="#1c2444" stroke-width="0.7" opacity="0.8"/>
<path d="M1.8,-3.9 C4.4,-3.4 7,-2 9,-0.3" fill="none" stroke="#3a4a70" stroke-width="0.55" opacity="0.75"/>
<path d="M-5.3,1.4 C-4.3,0.4 -2.6,-0.6 -0.4,-0.95 C1,-1 2,-0.2 2.6,0.9 C2.9,1.5 3.4,1.9 4.4,2.1" fill="none" stroke="#2c3c64" stroke-width="0.85" stroke-linecap="round"/>
<ellipse cx="-4.3" cy="1.05" rx="1.3" ry="0.68" fill="#14244a" transform="rotate(-18 -4.3 1.05)"/>
<path d="M-1.2,2.8 L-0.2,5.2 L0.8,2.8" fill="none" stroke="#6b7893" stroke-width="0.55"/>
<path d="M5.8,-0.7 C7,0 8,0.9 8.4,1.8 C8.6,2.5 8.3,2.9 7.7,3.1" fill="none" stroke="#a0aabd" stroke-width="0.5"/>
</g>
<g transform="translate(913.64,306.30)">
<path d="M-10.9,-1.3 C-8,-3.4 -3,-4.8 1.5,-4.3 C4.4,-3.8 7.2,-2.2 9,-0.4 C10,0.6 10.5,1.4 10.4,2.1 C10.2,3 9.6,3.5 8.6,3.7 C7.8,3.8 7.2,3.7 6.8,3.2 C6.3,2.6 5.6,2.5 4.7,2.3 C4,2.1 3.4,1.9 3,1.6 C2.4,2.2 1.8,2.7 1.5,3.3 L0.35,4.7 L-0.2,6.2 L-0.65,4.7 L-1.2,3.9 C-1.4,3.4 -1.9,3 -2.6,2.8 C-5.4,2.4 -8.6,1 -10.9,-1.3 Z" fill="#ffffff" stroke="#506080" stroke-width="0.62" stroke-linejoin="round"/>
<path d="M-11,-1.5 L-9.9,-3 L-9.4,-2.7 L-9,-5.2 L-8.2,-5.8 L-7.5,-4.7 L-6.7,-6 L-5.5,-5.2 L-4,-6.1 L-1.5,-6.1 L0.2,-5.6 L1.5,-4.7 L2.6,-3.6 L3.6,-2.9 L2,-3.2 C0,-3.5 -2.4,-3.3 -4.6,-2.7 C-6.6,-2.2 -8.6,-1.5 -10,-0.8 Z" fill="#d4410f" stroke="#7a2c1a" stroke-width="0.4" stroke-linejoin="round"/>
<path d="M-3.6,-5.6 L-1.5,-5.7 L0.1,-5.2 L1.3,-4.3 L0,-4.6 L-2,-4.9 Z" fill="#fb5a1a"/>
<path d="M-9.6,-1.6 C-7.6,-3 -5,-3.9 -2.2,-4.3 M-7.8,-3.8 L-7,-2.9 M-6,-4.6 L-5,-3.7 M-3.4,-4.4 C-1.6,-4.5 0.2,-4.2 1.8,-3.6" fill="none" stroke="#2e2030" stroke-width="0.55" opacity="0.75"/>
<path d="M-8.8,-5.3 L-8.2,-3.5 M-7.2,-5.3 L-6.6,-3.9 M-9.8,-2.8 L-9.2,-1.8" fill="none" stroke="#9aa6bd" stroke-width="0.7"/>
<path d="M-3.2,-4.3 L-1.4,-4.0" fill="none" stroke="#1c2444" stroke-width="0.7" opacity="0.8"/>
<path d="M1.8,-3.9 C4.4,-3.4 7,-2 9,-0.3" fill="none" stroke="#3a4a70" stroke-width="0.55" opacity="0.75"/>
<path d="M-5.3,1.4 C-4.3,0.4 -2.6,-0.6 -0.4,-0.95 C1,-1 2,-0.2 2.6,0.9 C2.9,1.5 3.4,1.9 4.4,2.1" fill="none" stroke="#2c3c64" stroke-width="0.85" stroke-linecap="round"/>
<ellipse cx="-4.3" cy="1.05" rx="1.3" ry="0.68" fill="#14244a" transform="rotate(-18 -4.3 1.05)"/>
<path d="M-1.2,2.8 L-0.2,5.2 L0.8,2.8" fill="none" stroke="#6b7893" stroke-width="0.55"/>
<path d="M5.8,-0.7 C7,0 8,0.9 8.4,1.8 C8.6,2.5 8.3,2.9 7.7,3.1" fill="none" stroke="#a0aabd" stroke-width="0.5"/>
</g>
<g transform="translate(951.87,289.50)">
<path d="M-10.9,-1.3 C-8,-3.4 -3,-4.8 1.5,-4.3 C4.4,-3.8 7.2,-2.2 9,-0.4 C10,0.6 10.5,1.4 10.4,2.1 C10.2,3 9.6,3.5 8.6,3.7 C7.8,3.8 7.2,3.7 6.8,3.2 C6.3,2.6 5.6,2.5 4.7,2.3 C4,2.1 3.4,1.9 3,1.6 C2.4,2.2 1.8,2.7 1.5,3.3 L0.35,4.7 L-0.2,6.2 L-0.65,4.7 L-1.2,3.9 C-1.4,3.4 -1.9,3 -2.6,2.8 C-5.4,2.4 -8.6,1 -10.9,-1.3 Z" fill="#ffffff" stroke="#506080" stroke-width="0.62" stroke-linejoin="round"/>
<path d="M-11,-1.5 L-9.9,-3 L-9.4,-2.7 L-9,-5.2 L-8.2,-5.8 L-7.5,-4.7 L-6.7,-6 L-5.5,-5.2 L-4,-6.1 L-1.5,-6.1 L0.2,-5.6 L1.5,-4.7 L2.6,-3.6 L3.6,-2.9 L2,-3.2 C0,-3.5 -2.4,-3.3 -4.6,-2.7 C-6.6,-2.2 -8.6,-1.5 -10,-0.8 Z" fill="#d4410f" stroke="#7a2c1a" stroke-width="0.4" stroke-linejoin="round"/>
<path d="M-3.6,-5.6 L-1.5,-5.7 L0.1,-5.2 L1.3,-4.3 L0,-4.6 L-2,-4.9 Z" fill="#fb5a1a"/>
<path d="M-9.6,-1.6 C-7.6,-3 -5,-3.9 -2.2,-4.3 M-7.8,-3.8 L-7,-2.9 M-6,-4.6 L-5,-3.7 M-3.4,-4.4 C-1.6,-4.5 0.2,-4.2 1.8,-3.6" fill="none" stroke="#2e2030" stroke-width="0.55" opacity="0.75"/>
<path d="M-8.8,-5.3 L-8.2,-3.5 M-7.2,-5.3 L-6.6,-3.9 M-9.8,-2.8 L-9.2,-1.8" fill="none" stroke="#9aa6bd" stroke-width="0.7"/>
<path d="M-3.2,-4.3 L-1.4,-4.0" fill="none" stroke="#1c2444" stroke-width="0.7" opacity="0.8"/>
<path d="M1.8,-3.9 C4.4,-3.4 7,-2 9,-0.3" fill="none" stroke="#3a4a70" stroke-width="0.55" opacity="0.75"/>
<path d="M-5.3,1.4 C-4.3,0.4 -2.6,-0.6 -0.4,-0.95 C1,-1 2,-0.2 2.6,0.9 C2.9,1.5 3.4,1.9 4.4,2.1" fill="none" stroke="#2c3c64" stroke-width="0.85" stroke-linecap="round"/>
<ellipse cx="-4.3" cy="1.05" rx="1.3" ry="0.68" fill="#14244a" transform="rotate(-18 -4.3 1.05)"/>
<path d="M-1.2,2.8 L-0.2,5.2 L0.8,2.8" fill="none" stroke="#6b7893" stroke-width="0.55"/>
<path d="M5.8,-0.7 C7,0 8,0.9 8.4,1.8 C8.6,2.5 8.3,2.9 7.7,3.1" fill="none" stroke="#a0aabd" stroke-width="0.5"/>
</g>
<g transform="translate(990.10,280.00)">
<path d="M-10.9,-1.3 C-8,-3.4 -3,-4.8 1.5,-4.3 C4.4,-3.8 7.2,-2.2 9,-0.4 C10,0.6 10.5,1.4 10.4,2.1 C10.2,3 9.6,3.5 8.6,3.7 C7.8,3.8 7.2,3.7 6.8,3.2 C6.3,2.6 5.6,2.5 4.7,2.3 C4,2.1 3.4,1.9 3,1.6 C2.4,2.2 1.8,2.7 1.5,3.3 L0.35,4.7 L-0.2,6.2 L-0.65,4.7 L-1.2,3.9 C-1.4,3.4 -1.9,3 -2.6,2.8 C-5.4,2.4 -8.6,1 -10.9,-1.3 Z" fill="#ffffff" stroke="#506080" stroke-width="0.62" stroke-linejoin="round"/>
<path d="M-11,-1.5 L-9.9,-3 L-9.4,-2.7 L-9,-5.2 L-8.2,-5.8 L-7.5,-4.7 L-6.7,-6 L-5.5,-5.2 L-4,-6.1 L-1.5,-6.1 L0.2,-5.6 L1.5,-4.7 L2.6,-3.6 L3.6,-2.9 L2,-3.2 C0,-3.5 -2.4,-3.3 -4.6,-2.7 C-6.6,-2.2 -8.6,-1.5 -10,-0.8 Z" fill="#d4410f" stroke="#7a2c1a" stroke-width="0.4" stroke-linejoin="round"/>
<path d="M-3.6,-5.6 L-1.5,-5.7 L0.1,-5.2 L1.3,-4.3 L0,-4.6 L-2,-4.9 Z" fill="#fb5a1a"/>
<path d="M-9.6,-1.6 C-7.6,-3 -5,-3.9 -2.2,-4.3 M-7.8,-3.8 L-7,-2.9 M-6,-4.6 L-5,-3.7 M-3.4,-4.4 C-1.6,-4.5 0.2,-4.2 1.8,-3.6" fill="none" stroke="#2e2030" stroke-width="0.55" opacity="0.75"/>
<path d="M-8.8,-5.3 L-8.2,-3.5 M-7.2,-5.3 L-6.6,-3.9 M-9.8,-2.8 L-9.2,-1.8" fill="none" stroke="#9aa6bd" stroke-width="0.7"/>
<path d="M-3.2,-4.3 L-1.4,-4.0" fill="none" stroke="#1c2444" stroke-width="0.7" opacity="0.8"/>
<path d="M1.8,-3.9 C4.4,-3.4 7,-2 9,-0.3" fill="none" stroke="#3a4a70" stroke-width="0.55" opacity="0.75"/>
<path d="M-5.3,1.4 C-4.3,0.4 -2.6,-0.6 -0.4,-0.95 C1,-1 2,-0.2 2.6,0.9 C2.9,1.5 3.4,1.9 4.4,2.1" fill="none" stroke="#2c3c64" stroke-width="0.85" stroke-linecap="round"/>
<ellipse cx="-4.3" cy="1.05" rx="1.3" ry="0.68" fill="#14244a" transform="rotate(-18 -4.3 1.05)"/>
<path d="M-1.2,2.8 L-0.2,5.2 L0.8,2.8" fill="none" stroke="#6b7893" stroke-width="0.55"/>
<path d="M5.8,-0.7 C7,0 8,0.9 8.4,1.8 C8.6,2.5 8.3,2.9 7.7,3.1" fill="none" stroke="#a0aabd" stroke-width="0.5"/>
</g>
<rect x="88.30" y="72.28" width="924.14" height="551.92" fill="none" stroke="#3b3b3b" stroke-width="1.00"/>
<line x1="82.20" x2="87.80" y1="599.60" y2="599.60" stroke="#333333" stroke-width="1.94"/>
<line x1="82.20" x2="87.80" y1="473.95" y2="473.95" stroke="#333333" stroke-width="1.94"/>
<line x1="82.20" x2="87.80" y1="348.30" y2="348.30" stroke="#333333" stroke-width="1.94"/>
<line x1="82.20" x2="87.80" y1="222.65" y2="222.65" stroke="#333333" stroke-width="1.94"/>
<line x1="82.20" x2="87.80" y1="97.00" y2="97.00" stroke="#333333" stroke-width="1.94"/>
<line x1="110.74" x2="110.74" y1="624.70" y2="630.20" stroke="#333333" stroke-width="1.94"/>
<line x1="148.97" x2="148.97" y1="624.70" y2="630.20" stroke="#333333" stroke-width="1.94"/>
<line x1="187.20" x2="187.20" y1="624.70" y2="630.20" stroke="#333333" stroke-width="1.94"/>
<line x1="225.42" x2="225.42" y1="624.70" y2="630.20" stroke="#333333" stroke-width="1.94"/>
<line x1="263.65" x2="263.65" y1="624.70" y2="630.20" stroke="#333333" stroke-width="1.94"/>
<line x1="301.88" x2="301.88" y1="624.70" y2="630.20" stroke="#333333" stroke-width="1.94"/>
<line x1="340.11" x2="340.11" y1="624.70" y2="630.20" stroke="#333333" stroke-width="1.94"/>
<line x1="378.34" x2="378.34" y1="624.70" y2="630.20" stroke="#333333" stroke-width="1.94"/>
<line x1="416.57" x2="416.57" y1="624.70" y2="630.20" stroke="#333333" stroke-width="1.94"/>
<line x1="454.80" x2="454.80" y1="624.70" y2="630.20" stroke="#333333" stroke-width="1.94"/>
<line x1="493.03" x2="493.03" y1="624.70" y2="630.20" stroke="#333333" stroke-width="1.94"/>
<line x1="531.26" x2="531.26" y1="624.70" y2="630.20" stroke="#333333" stroke-width="1.94"/>
<line x1="569.48" x2="569.48" y1="624.70" y2="630.20" stroke="#333333" stroke-width="1.94"/>
<line x1="607.71" x2="607.71" y1="624.70" y2="630.20" stroke="#333333" stroke-width="1.94"/>
<line x1="645.94" x2="645.94" y1="624.70" y2="630.20" stroke="#333333" stroke-width="1.94"/>
<line x1="684.17" x2="684.17" y1="624.70" y2="630.20" stroke="#333333" stroke-width="1.94"/>
<line x1="722.40" x2="722.40" y1="624.70" y2="630.20" stroke="#333333" stroke-width="1.94"/>
<line x1="760.63" x2="760.63" y1="624.70" y2="630.20" stroke="#333333" stroke-width="1.94"/>
<line x1="798.86" x2="798.86" y1="624.70" y2="630.20" stroke="#333333" stroke-width="1.94"/>
<line x1="837.09" x2="837.09" y1="624.70" y2="630.20" stroke="#333333" stroke-width="1.94"/>
<line x1="875.32" x2="875.32" y1="624.70" y2="630.20" stroke="#333333" stroke-width="1.94"/>
<line x1="913.54" x2="913.54" y1="624.70" y2="630.20" stroke="#333333" stroke-width="1.94"/>
<line x1="951.77" x2="951.77" y1="624.70" y2="630.20" stroke="#333333" stroke-width="1.94"/>
<line x1="990.00" x2="990.00" y1="624.70" y2="630.20" stroke="#333333" stroke-width="1.94"/>
<text x="77.6" y="605.50" font-size="16" fill="#4d4d4d" text-anchor="end">0%</text>
<text x="77.6" y="479.85" font-size="16" fill="#4d4d4d" text-anchor="end">25%</text>
<text x="77.6" y="354.20" font-size="16" fill="#4d4d4d" text-anchor="end">50%</text>
<text x="77.6" y="228.55" font-size="16" fill="#4d4d4d" text-anchor="end">75%</text>
<text x="77.6" y="102.90" font-size="16" fill="#4d4d4d" text-anchor="end">100%</text>
<text transform="translate(98.74,635.00) rotate(90)" font-size="16" fill="#4d4d4d" text-anchor="start" textLength="59.6" lengthAdjust="spacing">2024 02</text>
<text transform="translate(136.97,635.00) rotate(90)" font-size="16" fill="#4d4d4d" text-anchor="start" textLength="59.6" lengthAdjust="spacing">2024 03</text>
<text transform="translate(175.20,635.00) rotate(90)" font-size="16" fill="#4d4d4d" text-anchor="start" textLength="59.6" lengthAdjust="spacing">2024 04</text>
<text transform="translate(213.42,635.00) rotate(90)" font-size="16" fill="#4d4d4d" text-anchor="start" textLength="59.6" lengthAdjust="spacing">2024 05</text>
<text transform="translate(251.65,635.00) rotate(90)" font-size="16" fill="#4d4d4d" text-anchor="start" textLength="59.6" lengthAdjust="spacing">2024 06</text>
<text transform="translate(289.88,635.00) rotate(90)" font-size="16" fill="#4d4d4d" text-anchor="start" textLength="59.6" lengthAdjust="spacing">2024 07</text>
<text transform="translate(328.11,635.00) rotate(90)" font-size="16" fill="#4d4d4d" text-anchor="start" textLength="59.6" lengthAdjust="spacing">2024 08</text>
<text transform="translate(366.34,635.00) rotate(90)" font-size="16" fill="#4d4d4d" text-anchor="start" textLength="59.6" lengthAdjust="spacing">2024 09</text>
<text transform="translate(404.57,635.00) rotate(90)" font-size="16" fill="#4d4d4d" text-anchor="start" textLength="59.6" lengthAdjust="spacing">2024 10</text>
<text transform="translate(442.80,635.00) rotate(90)" font-size="16" fill="#4d4d4d" text-anchor="start" textLength="59.6" lengthAdjust="spacing">2024 11</text>
<text transform="translate(481.03,635.00) rotate(90)" font-size="16" fill="#4d4d4d" text-anchor="start" textLength="59.6" lengthAdjust="spacing">2024 12</text>
<text transform="translate(519.26,635.00) rotate(90)" font-size="16" fill="#4d4d4d" text-anchor="start" textLength="59.6" lengthAdjust="spacing">2024 13</text>
<text transform="translate(557.48,635.00) rotate(90)" font-size="16" fill="#4d4d4d" text-anchor="start" textLength="59.6" lengthAdjust="spacing">2024 15</text>
<text transform="translate(595.71,635.00) rotate(90)" font-size="16" fill="#4d4d4d" text-anchor="start" textLength="59.6" lengthAdjust="spacing">2024 16</text>
<text transform="translate(633.94,635.00) rotate(90)" font-size="16" fill="#4d4d4d" text-anchor="start" textLength="59.6" lengthAdjust="spacing">2024 17</text>
<text transform="translate(672.17,635.00) rotate(90)" font-size="16" fill="#4d4d4d" text-anchor="start" textLength="59.6" lengthAdjust="spacing">2024 18</text>
<text transform="translate(710.40,635.00) rotate(90)" font-size="16" fill="#4d4d4d" text-anchor="start" textLength="59.6" lengthAdjust="spacing">2025 01</text>
<text transform="translate(748.63,635.00) rotate(90)" font-size="16" fill="#4d4d4d" text-anchor="start" textLength="59.6" lengthAdjust="spacing">2025 02</text>
<text transform="translate(786.86,635.00) rotate(90)" font-size="16" fill="#4d4d4d" text-anchor="start" textLength="59.6" lengthAdjust="spacing">2025 03</text>
<text transform="translate(825.09,635.00) rotate(90)" font-size="16" fill="#4d4d4d" text-anchor="start" textLength="59.6" lengthAdjust="spacing">2025 04</text>
<text transform="translate(863.32,635.00) rotate(90)" font-size="16" fill="#4d4d4d" text-anchor="start" textLength="59.6" lengthAdjust="spacing">2025 05</text>
<text transform="translate(901.54,635.00) rotate(90)" font-size="16" fill="#4d4d4d" text-anchor="start" textLength="59.6" lengthAdjust="spacing">2025 06</text>
<text transform="translate(939.77,635.00) rotate(90)" font-size="16" fill="#4d4d4d" text-anchor="start" textLength="59.6" lengthAdjust="spacing">2025 07</text>
<text transform="translate(978.00,635.00) rotate(90)" font-size="16" fill="#4d4d4d" text-anchor="start" textLength="59.6" lengthAdjust="spacing">2025 08</text>
<text x="299.80" y="28.20" font-size="24" fill="#000000" letter-spacing="-0.300">Troy</text>
<text x="353.90" y="28.20" font-size="24" fill="#000000" letter-spacing="0.829">Franklin</text>
<text x="452.00" y="28.20" font-size="24" fill="#000000" letter-spacing="0.700">Percentage</text>
<text x="589.30" y="28.20" font-size="24" fill="#000000" letter-spacing="1.400">of</text>
<text x="618.10" y="28.20" font-size="24" fill="#000000" letter-spacing="0.800">Offensive</text>
<text x="732.80" y="28.20" font-size="24" fill="#000000" letter-spacing="0.175">Snaps</text>
<text x="465.70" y="714.70" font-size="20" fill="#000000" letter-spacing="0.240">Season</text>
<text x="539.90" y="714.70" font-size="20" fill="#000000" letter-spacing="1.400">and</text>
<text x="581.70" y="714.70" font-size="20" fill="#000000" letter-spacing="0.267">Week</text>
<text transform="translate(26.00,492.70) rotate(-90)" font-size="20" fill="#000000" letter-spacing="0.478">Percentage</text>
<text transform="translate(26.00,380.40) rotate(-90)" font-size="20" fill="#000000" letter-spacing="1.500">of</text>
<text transform="translate(26.00,355.60) rotate(-90)" font-size="20" fill="#000000" letter-spacing="0.688">Offensive</text>
<text transform="translate(26.00,260.00) rotate(-90)" font-size="20" fill="#000000" letter-spacing="0.050">Snaps</text>
</svg></body></html>
